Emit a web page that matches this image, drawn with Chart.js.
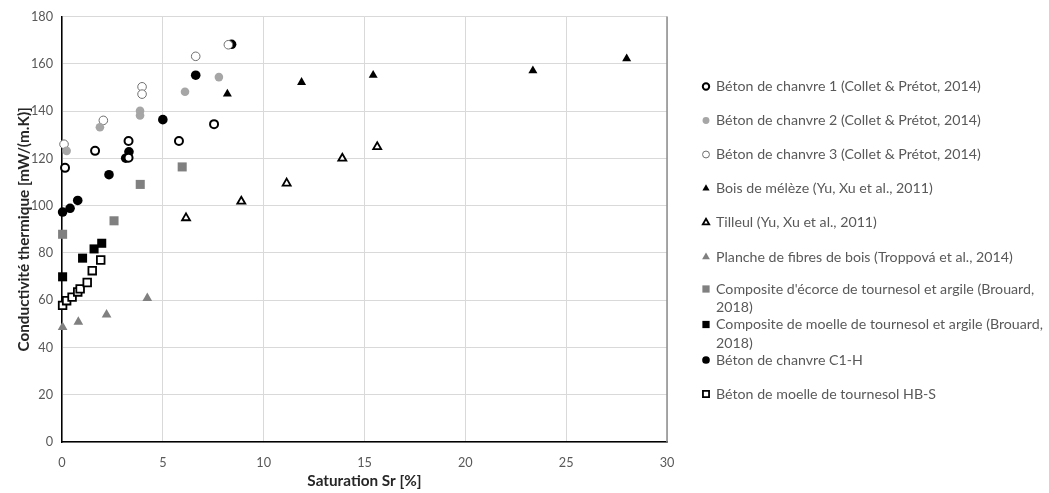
<!DOCTYPE html>
<html>
<head>
<meta charset="utf-8">
<script src="https://cdn.jsdelivr.net/npm/chart.js@4.4.1/dist/chart.umd.min.js"></script>
<style>
  html, body { margin: 0; padding: 0; background: #ffffff; }
  #wrap { width: 1049px; height: 493px; position: relative; }
</style>
</head>
<body>
<div id="wrap"><canvas id="c"></canvas></div>
<script>
// ---- Data ----
const xTitle = 'Saturation Sr [%]';
const yTitle = 'Conductivité thermique [mW/(m.K)]';

const labels = [
  'Béton de chanvre 1 (Collet & Prétot, 2014)',
  'Béton de chanvre 2 (Collet & Prétot, 2014)',
  'Béton de chanvre 3 (Collet & Prétot, 2014)',
  'Bois de mélèze (Yu, Xu et al., 2011)',
  'Tilleul (Yu, Xu et al., 2011)',
  'Planche de fibres de bois (Troppová et al., 2014)',
  "Composite d'écorce de tournesol et argile (Brouard, 2018)",
  'Composite de moelle de tournesol et argile (Brouard, 2018)',
  'Béton de chanvre C1-H',
  'Béton de moelle de tournesol HB-S'
];

const chanvre1X = [0.15, 1.64, 3.3, 3.3, 5.8, 7.54];
const chanvre1Y = [116, 123.2, 127.4, 120.3, 127.4, 134.5];

const chanvre2X = [0.23, 1.88, 3.87, 3.87, 6.1, 7.78];
const chanvre2Y = [123.2, 133.2, 140.2, 138.2, 148.2, 154.4];

const chanvre3X = [0.1, 2.05, 3.97, 3.97, 6.63, 8.25];
const chanvre3Y = [126, 136.1, 150.3, 147.2, 163.2, 168.1];

const melezeX = [8.2, 11.88, 15.43, 23.35, 28.0];
const melezeY = [147.3, 152.2, 155.2, 157.1, 162.2];

const tilleulX = [6.15, 8.89, 11.14, 13.9, 15.63];
const tilleulY = [94.8, 101.8, 109.5, 120, 124.9];

const plancheX = [0.03, 0.81, 2.21, 4.23];
const plancheY = [48.6, 50.8, 53.9, 60.9];

const ecorceX = [0.03, 2.58, 3.88, 5.96];
const ecorceY = [87.9, 93.6, 109, 116.4];

const moelleX = [0.03, 1.02, 1.59, 1.97];
const moelleY = [69.9, 77.8, 81.7, 84.1];

const c1hX = [0.03, 0.4, 0.78, 2.33, 3.16, 3.32, 5.0, 6.63, 8.41];
const c1hY = [97.3, 98.9, 102.2, 113.1, 120.1, 122.8, 136.4, 155.2, 168.3];

const hbsX = [0.03, 0.23, 0.5, 0.78, 0.9, 1.25, 1.5, 1.92];
const hbsY = [57.8, 59.8, 61.3, 63.5, 64.8, 67.5, 72.5, 77];

const xTicks = [0, 5, 10, 15, 20, 25, 30];
const yTicks = [0, 20, 40, 60, 80, 100, 120, 140, 160, 180];

function pts(xs, ys) { return xs.map((x, i) => ({ x: x, y: ys[i] })); }

// ---- Styles ----
const styles = [
  { pointStyle: 'circle',   radius: 4,   bg: '#ffffff', border: '#000000', bw: 2 },
  { pointStyle: 'circle',   radius: 4.3, bg: '#a6a6a6', border: '#a6a6a6', bw: 0 },
  { pointStyle: 'circle',   radius: 4.3, bg: '#ffffff', border: '#6e6e6e', bw: 1 },
  { pointStyle: 'triangle', radius: 5.2, bg: '#000000', border: '#000000', bw: 0 },
  { pointStyle: 'triangle', radius: 4.6, bg: '#ffffff', border: '#000000', bw: 1.8 },
  { pointStyle: 'triangle', radius: 5.6, bg: '#808080', border: '#808080', bw: 0 },
  { pointStyle: 'rect',     radius: 6.4, bg: '#808080', border: '#808080', bw: 0 },
  { pointStyle: 'rect',     radius: 6.4, bg: '#000000', border: '#000000', bw: 0 },
  { pointStyle: 'circle',   radius: 4.8, bg: '#000000', border: '#000000', bw: 0 },
  { pointStyle: 'rect',     radius: 5.4, bg: '#ffffff', border: '#000000', bw: 1.8 }
];

const seriesData = [
  pts(chanvre1X, chanvre1Y),
  pts(chanvre2X, chanvre2Y),
  pts(chanvre3X, chanvre3Y),
  pts(melezeX, melezeY),
  pts(tilleulX, tilleulY),
  pts(plancheX, plancheY),
  pts(ecorceX, ecorceY),
  pts(moelleX, moelleY),
  pts(c1hX, c1hY),
  pts(hbsX, hbsY)
];

const datasets = seriesData.map((d, i) => ({
  label: labels[i],
  data: d,
  pointStyle: styles[i].pointStyle,
  pointRadius: styles[i].radius,
  pointHoverRadius: styles[i].radius,
  pointBackgroundColor: styles[i].bg,
  pointBorderColor: styles[i].border,
  pointBorderWidth: styles[i].bw,
  showLine: false,
  clip: false
}));

const FONT = 'Lato, "Open Sans", sans-serif';

// Custom legend (Excel-like, with wrapped lines)
const legendRows = [86.5, 120.5, 154.5, 188.5, 222.5, 257, 289, 324.5, 360, 394];
const customLegend = {
  id: 'customLegend',
  afterDraw(chart) {
    const ctx = chart.ctx;
    ctx.save();
    ctx.font = '14.2px ' + FONT;
    ctx.textBaseline = 'middle';
    ctx.textAlign = 'left';
    const textX = 716;
    const markX = 706;
    const maxW = 1047 - textX;
    chart.data.datasets.forEach((ds, i) => {
      const y = legendRows[i];
      const st = styles[i];
      ctx.fillStyle = st.bg;
      ctx.strokeStyle = st.border;
      ctx.lineWidth = st.bw;
      Chart.helpers.drawPoint(ctx, {
        pointStyle: st.pointStyle,
        radius: st.radius * 0.8,
        rotation: 0,
        borderWidth: st.bw
      }, markX, y);
      const words = ds.label.split(' ');
      const lines = [];
      let cur = '';
      words.forEach(w => {
        const test = cur ? cur + ' ' + w : w;
        if (ctx.measureText(test).width > maxW && cur) { lines.push(cur); cur = w; }
        else cur = test;
      });
      lines.push(cur);
      ctx.fillStyle = '#595959';
      lines.forEach((ln, k) => ctx.fillText(ln, textX, y + k * 18.5));
    });
    const a = chart.chartArea;
    ctx.strokeStyle = '#8c8c8c';
    ctx.lineWidth = 1.5;
    ctx.beginPath();
    ctx.moveTo(a.right, a.top);
    ctx.lineTo(a.right, a.bottom);
    ctx.stroke();
    ctx.restore();
  }
};

new Chart(document.getElementById('c'), {
  type: 'scatter',
  data: { datasets: datasets },
  plugins: [customLegend],
  options: {
    responsive: true,
    maintainAspectRatio: false,
    animation: false,
    events: [],
    layout: { padding: { left: 0, right: 382, top: 14, bottom: 0 } },
    plugins: {
      legend: { display: false },
      tooltip: { enabled: false }
    },
    scales: {
      x: {
        type: 'linear',
        min: 0, max: 30,
        afterBuildTicks(scale) { scale.ticks = xTicks.map(v => ({ value: v })); },
        afterFit(scale) { scale.height = 51; },
        grid: { color: '#d9d9d9', lineWidth: 1, drawTicks: false },
        border: { color: '#000000', width: 1.5 },
        ticks: { color: '#595959', font: { family: FONT, size: 12.7 }, padding: 13, maxRotation: 0 },
        title: { display: true, text: xTitle, color: '#262626', font: { family: FONT, size: 15.3, weight: 'bold' }, padding: { top: 0, bottom: 3 } }
      },
      y: {
        type: 'linear',
        min: 0, max: 180,
        afterBuildTicks(scale) { scale.ticks = yTicks.map(v => ({ value: v })); },
        afterFit(scale) { scale.width = 62; },
        grid: { color: '#d9d9d9', lineWidth: 1, drawTicks: false },
        border: { color: '#000000', width: 1.5 },
        ticks: { color: '#595959', font: { family: FONT, size: 12.7 }, padding: 9 },
        title: { display: true, text: yTitle, color: '#262626', font: { family: FONT, size: 15.3, weight: 'bold' }, padding: { top: 15, bottom: 0 } }
      }
    }
  }
});
</script>
</body>
</html>
